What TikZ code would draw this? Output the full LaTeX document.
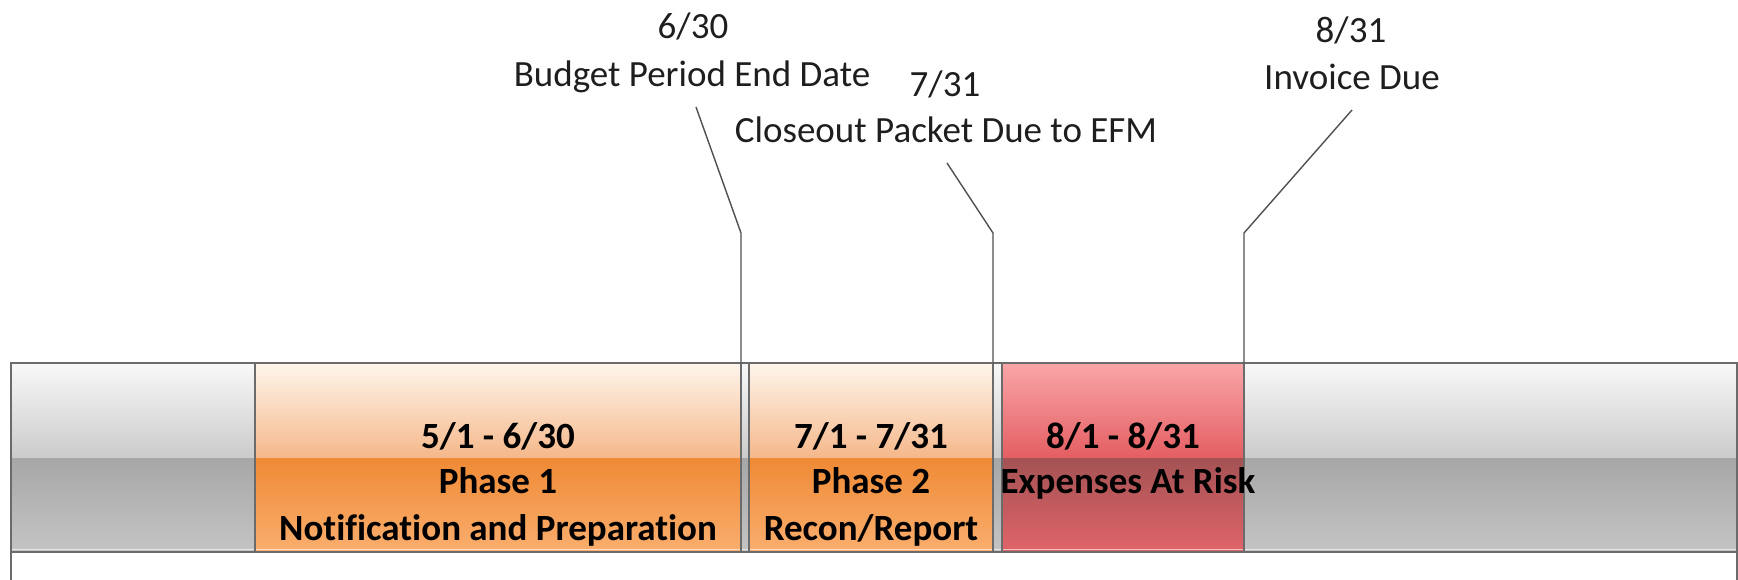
\documentclass[tikz,border=0pt]{standalone}
\usepackage{fontspec}
\setmainfont{Carlito}[Ligatures=NoCommon]
\definecolor{bord}{HTML}{6B6B6B}
\definecolor{gTop}{HTML}{F8F8F8}
\definecolor{gMidA}{HTML}{CBCBCB}
\definecolor{gMidB}{HTML}{A7A7A7}
\definecolor{gBot}{HTML}{C4C4C4}
\definecolor{oTop}{HTML}{FEF5EC}
\definecolor{oMidA}{HTML}{F5B88A}
\definecolor{oMidB}{HTML}{EF8A35}
\definecolor{oBot}{HTML}{FAAE6E}
\definecolor{rTop}{HTML}{F9A6A9}
\definecolor{rMidA}{HTML}{E45E62}
\definecolor{rMidB}{HTML}{A45254}
\definecolor{rBot}{HTML}{E06468}
\definecolor{leadcol}{HTML}{505050}
\definecolor{lbltext}{HTML}{1E1E1E}
\newcommand\twotone[6]{%
  \shade[top color=#3, bottom color=#4] (#1,363) rectangle (#2,458);
  \shade[top color=#5, bottom color=#6] (#1,458) rectangle (#2,552);}
\tikzset{
  lbl/.style={font=\fontsize{37}{46}\selectfont, text=lbltext, anchor=base, inner sep=0pt},
  bartext/.style={font=\bfseries\fontsize{37}{46}\selectfont, text=black, anchor=base, inner sep=0pt},
  boxframe/.style={draw=bord, line width=1.8pt, inner sep=0pt, outer sep=0pt, minimum height=189pt},
  leader/.style={draw=leadcol, line width=1.4pt},
}
\begin{document}
\begin{tikzpicture}[x=1pt,y=-1pt]
\useasboundingbox (0,0) rectangle (1738,580);
% background bar
\twotone{11}{1737}{gTop}{gMidA}{gMidB}{gBot}
% phase shadings
\twotone{255}{741}{oTop}{oMidA}{oMidB}{oBot}
\twotone{749}{993}{oTop}{oMidA}{oMidB}{oBot}
\twotone{1002}{1244}{rTop}{rMidA}{rMidB}{rBot}
% bottom highlight
\draw[white, opacity=0.6, line width=1.2pt] (12,549.5) -- (1736,549.5);
% bar frame and lower box
\node[boxframe, minimum width=1726pt] (bar) at (874,457.5) {};
\draw[draw=bord, line width=1.8pt] (11,580) -- (bar.south west) -- (bar.south east) -- (1737,580);
% boxes
\node[boxframe, minimum width=486pt] (p1) at (498,457.5) {};
\node[boxframe, minimum width=244pt] (p2) at (871,457.5) {};
\node[boxframe, minimum width=242pt] (p3) at (1123,457.5) {};
% box texts
\node[bartext] (p1a) at (498,448) {5/1 - 6/30};
\node[bartext] (p1b) at (498,493) {Phase 1};
\node[bartext] (p1c) at (498,540) {Notification and Preparation};
\node[bartext] (p2a) at (871,448) {7/1 - 7/31};
\node[bartext] (p2b) at (871,493) {Phase 2};
\node[bartext] (p2c) at (871,540) {Recon/Report};
\node[bartext] (p3a) at (1123,448) {8/1 - 8/31};
\node[bartext] (p3b) at (1128,493) {Expenses At Risk};
% top labels
\node[lbl] (d1) at (693,39) {6/30};
\node[lbl] (t1) at (692,87) {Budget Period End Date};
\node[lbl] (d2) at (945,97) {7/31};
\node[lbl] (t2) at (946,143) {Closeout Packet Due to EFM};
\node[lbl] (d3) at (1351,43) {8/31};
\node[lbl] (t3) at (1352,90) {Invoice Due};
% leaders
\coordinate (a1) at (696,107);
\coordinate (k1) at (741,233);
\coordinate (a2) at (947,163);
\coordinate (k2) at (993,233);
\coordinate (a3) at (1352,110);
\coordinate (k3) at (1244,233);
\draw[leader] (a1) -- (k1) -- (p1.north east);
\draw[leader] (a2) -- (k2) -- (p2.north east);
\draw[leader] (a3) -- (k3) -- (p3.north east);
\end{tikzpicture}
\end{document}
